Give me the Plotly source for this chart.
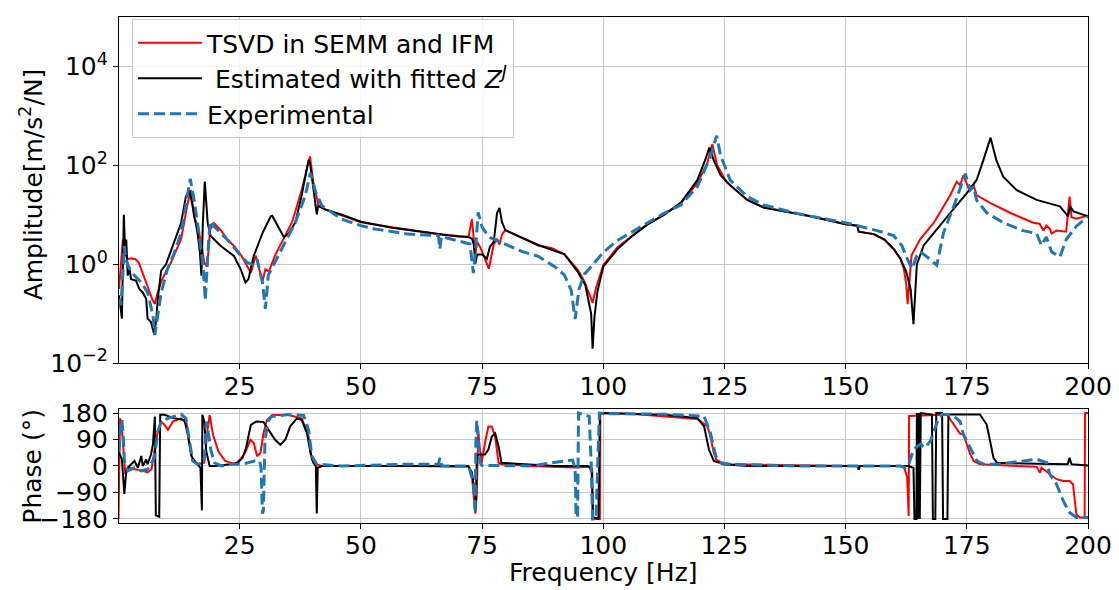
import plotly.graph_objects as go

# ---------------- Amplitude data ----------------
red_amp_f = [0.1, 0.6, 0.9, 1.3, 1.8, 2.5, 3.5, 4.2, 5.0, 6.0, 7.0, 7.5, 8.0, 8.8, 10.0, 10.8, 12.0, 12.9,
             14.2, 14.9, 15.6, 16.5, 17.2, 17.7, 18.3, 18.9, 19.7, 21.0, 22.5, 24.0, 25.2, 26.6, 27.3, 28.3,
             29.0, 29.7, 30.3, 31.0, 32.3, 33.7, 35.8, 37.8, 39.2, 39.5, 40.2, 41.3, 42.6, 46.1, 50.0, 56.4,
             63.3, 66.7, 70.1, 72.2, 72.9, 73.3, 73.6, 74.0, 74.6, 75.3, 76.4, 77.4, 78.1, 78.6, 79.1, 79.8,
             81.8, 86.6, 89.3, 92.0, 94.8, 96.1, 97.1, 97.8, 98.5, 100.0, 102.9, 105.7, 109.1, 112.5, 116.0,
             119.4, 121.4, 122.5, 123.5, 125.5, 129.7, 133.1, 139.9, 142.8, 150.0, 152.4, 152.7, 155.8, 158.0,
             159.9, 161.3, 162.0, 162.5, 162.8, 163.2, 163.6, 165.4, 168.2, 171.6, 172.9, 173.6, 174.3, 175.3,
             176.4, 177.0, 179.8, 183.9, 188.7, 190.0, 190.8, 191.4, 192.1, 192.5, 193.5, 195.5, 196.2, 196.6,
             197.6, 200.0]
red_amp = [0.316, 1.58, 3.16, 1.78, 1.26, 1.32, 1.26, 1.07, 0.631, 0.355, 0.191, 0.158, 0.251, 0.447, 0.794,
           1.07, 2.0, 3.16, 15.8, 31.6, 8.91, 5.01, 2.24, 1.07, 0.891, 5.01, 6.76, 5.01, 3.16, 2.24, 1.58, 0.933,
           0.676, 1.48, 0.794, 0.447, 0.794, 0.708, 1.51, 2.82, 7.08, 31.6, 126, 151, 44.7, 15.1, 12.9, 9.55,
           7.08, 5.62, 4.47, 3.98, 3.72, 3.55, 8.13, 3.55, 1.58, 2.82, 2.24, 1.51, 0.813, 2.51, 3.16, 2.51, 3.98,
           4.90, 3.98, 2.40, 2.14, 1.58, 0.759, 0.447, 0.251, 0.166, 0.331, 0.955, 2.19, 3.55, 6.46, 10.0, 17.4,
           43.7, 107, 269, 100, 44.7, 20.0, 14.1, 10.7, 9.33, 6.46, 6.03, 4.57, 4.07, 3.16, 2.04, 1.29, 0.813,
           0.398, 0.155, 0.501, 1.51, 3.24, 6.92, 25.1, 46.8, 39.8, 63.1, 35.5, 39.8, 25.1, 17.4, 11.0, 6.92,
           6.61, 4.79, 6.03, 5.25, 4.17, 4.79, 4.57, 23.4, 8.91, 8.32, 9.55]

black_amp_f = [0.1, 0.7, 1.1, 1.4, 1.6, 1.9, 2.2, 2.6, 3.6, 4.3, 5.0, 5.7, 6.0, 6.7, 7.4, 7.8, 8.1, 8.8, 9.8,
               11.2, 12.9, 13.9, 14.6, 15.3, 16.3, 16.8, 17.1, 17.4, 17.8, 18.4, 19.0, 21.1, 23.8, 25.2, 26.2,
               26.8, 27.9, 29.7, 31.4, 31.7, 33.0, 34.1, 35.1, 36.5, 37.8, 39.2, 39.5, 40.2, 40.9, 41.2, 42.6,
               46.1, 50.0, 56.4, 63.3, 66.7, 70.1, 72.2, 72.9, 73.3, 73.6, 74.0, 75.0, 76.0, 76.6, 77.4, 78.1,
               78.6, 79.1, 79.8, 82.5, 86.6, 92.0, 94.8, 96.3, 97.5, 97.8, 98.2, 98.8, 100.0, 102.9, 105.7,
               109.1, 112.5, 116.0, 119.4, 121.0, 121.9, 122.8, 124.2, 126.2, 129.7, 133.1, 139.9, 142.8, 150.0,
               152.4, 152.7, 155.8, 158.0, 159.9, 161.3, 162.5, 163.4, 164.0, 164.4, 164.7, 166.1, 168.8, 171.6,
               175.0, 177.0, 178.4, 179.9, 181.1, 182.5, 185.3, 189.4, 194.2, 195.9, 196.3, 197.0, 200.0]
black_amp = [0.234, 0.0794, 10.0, 1.48, 3.16, 0.589, 0.891, 0.501, 0.468, 0.316, 0.269, 0.200, 0.0794, 0.0676,
             0.0372, 0.0794, 0.200, 0.741, 1.0, 2.34, 6.76, 23.4, 31.6, 14.8, 4.27, 1.70, 0.589, 6.76, 46.8, 6.76,
             3.72, 2.34, 1.48, 0.794, 0.427, 0.501, 1.48, 4.27, 9.33, 9.55, 5.62, 3.55, 4.17, 7.08, 25.1, 129, 112,
             31.6, 10.2, 15.1, 12.9, 10.0, 7.24, 5.50, 4.37, 3.98, 3.63, 3.55, 3.31, 2.51, 1.02, 1.58, 1.58, 1.29,
             2.24, 2.82, 11.0, 13.8, 7.08, 4.90, 3.72, 2.45, 1.58, 0.692, 0.380, 0.100, 0.0195, 0.0891, 0.282,
             0.891, 2.0, 3.55, 6.31, 10.0, 17.4, 50.1, 126, 229, 126, 63.1, 39.8, 20.0, 14.1, 10.7, 9.33, 6.46,
             6.03, 4.57, 4.07, 3.16, 2.04, 1.29, 0.708, 0.316, 0.0617, 0.316, 1.0, 2.40, 5.13, 11.0, 27.5, 50.1,
             126, 363, 126, 58.9, 31.6, 20.0, 14.8, 9.33, 14.8, 11.7, 9.33]

blue_amp_f = [0.1, 0.5, 0.9, 1.2, 1.5, 2.3, 3.3, 4.7, 6.0, 7.1, 7.5, 8.1, 8.8, 10.1, 11.5, 12.9, 13.9, 14.8,
              15.6, 16.6, 17.5, 17.9, 18.4, 18.9, 19.7, 21.1, 23.1, 25.2, 26.6, 27.6, 28.6, 29.7, 30.3, 30.9,
              32.3, 34.4, 36.5, 38.5, 39.6, 40.7, 42.0, 46.1, 50.0, 53.0, 59.8, 66.0, 66.3, 66.6, 70.1, 72.5,
              73.2, 73.6, 74.2, 75.0, 76.4, 79.8, 83.2, 86.6, 90.0, 92.0, 93.4, 94.2, 95.0, 96.1, 97.5, 100.0,
              102.9, 105.7, 109.1, 112.5, 116.0, 119.4, 122.1, 123.4, 124.2, 126.2, 129.7, 133.1, 139.9, 142.8,
              150.0, 156.5, 159.9, 161.6, 162.7, 163.7, 164.7, 165.4, 166.8, 168.8, 170.2, 172.3, 174.7, 175.7,
              176.4, 177.0, 179.1, 182.5, 186.6, 189.4, 190.4, 191.4, 192.5, 194.2, 195.5, 197.6, 200.0]
blue_amp = [0.200, 0.148, 0.631, 2.34, 1.26, 0.794, 0.589, 0.427, 0.269, 0.0933, 0.0372, 0.0933, 0.269, 0.794,
            1.70, 4.27, 14.8, 53.7, 20.0, 4.27, 0.794, 0.186, 1.48, 7.41, 5.89, 4.27, 2.69, 1.48, 1.07, 1.0, 1.26,
            0.427, 0.126, 0.603, 1.12, 2.82, 7.08, 24.0, 70.8, 28.2, 15.1, 8.13, 6.03, 5.13, 4.07, 3.80, 2.04,
            3.63, 3.02, 2.57, 0.661, 1.58, 11.2, 5.62, 3.55, 2.51, 1.82, 1.45, 0.891, 0.603, 0.295, 0.0776, 0.316,
            0.631, 0.891, 1.74, 3.02, 4.37, 6.76, 10.7, 15.8, 37.2, 148, 398, 158, 50.1, 23.4, 15.8, 10.7, 9.33,
            6.92, 4.79, 3.80, 2.40, 1.29, 0.813, 1.51, 1.78, 1.41, 0.955, 4.37, 14.8, 67.6, 31.6, 37.2, 20.0,
            11.0, 6.92, 4.79, 4.17, 2.40, 3.55, 1.78, 1.41, 3.16, 5.89, 9.33]

# ---------------- Phase data ----------------
red_ph_f = [0.0, 0.3, 0.6, 0.9, 1.1, 1.4, 1.9, 3.3, 4.7, 6.0, 6.8, 7.4, 8.1, 8.8, 9.5, 10.2, 11.2, 12.9, 14.0,
            14.6, 15.3, 16.3, 17.7, 18.4, 18.8, 19.5, 20.6, 22.0, 24.0, 25.1, 26.1, 27.2, 27.9, 28.6, 29.3, 29.9,
            30.6, 31.7, 35.1, 37.8, 39.2, 39.9, 40.6, 42.0, 50.0, 60.0, 72.2, 72.9, 73.6, 73.9, 74.2, 74.5, 74.9,
            75.6, 76.3, 77.0, 77.7, 78.4, 79.0, 85.0, 94.0, 97.1, 97.6, 97.8, 99.3, 99.4, 105.7, 119.4, 121.5,
            122.1, 122.8, 123.3, 125.0, 150.0, 162.0, 162.7, 163.0, 163.1, 170.9, 172.3, 173.6, 174.3, 175.0,
            175.7, 176.4, 177.7, 189.4, 190.1, 190.4, 191.5, 192.1, 193.5, 194.9, 196.2, 196.9, 197.6, 198.3,
            199.3, 199.4, 200.0]
red_ph = [-180, 162, 150, 95, 39, -28, -5, -11, -15, -22, -11, 50, 117, 151, 140, 123, 151, 162, 145, 84, 17, 6,
          11, 128, 173, 106, 50, 17, 6, 22, 45, 89, 78, 33, 45, 111, 156, 173, 173, 162, 100, 22, 6, 0, 0, -2, 0,
          -33, -162, -100, 122, 66, 11, 78, 134, 134, 100, 11, 6, 0, -5, -3, -22, -180, -180, 180, 178, 160, 135,
          100, 45, 22, 6, 0, 0, -40, -170, 170, 175, 141, 110, 107, 73, 40, 17, 6, -3, -23, -6, -20, -28, -45,
          -51, -51, -62, -164, -175, -175, 180, 180]

black_ph_f = [0.0, 0.3, 0.7, 1.2, 1.6, 1.9, 2.6, 3.3, 4.0, 4.7, 5.0, 5.7, 6.0, 6.7, 7.1, 7.5, 7.7, 8.4, 8.6, 9.5,
              11.5, 13.6, 14.3, 15.0, 16.0, 16.9, 17.2, 17.3, 17.7, 18.1, 18.8, 19.8, 23.2, 24.6, 25.6, 26.3,
              27.3, 28.4, 29.9, 31.0, 32.3, 33.4, 34.4, 35.4, 36.8, 37.8, 38.9, 39.6, 40.2, 40.7, 40.9, 41.1,
              42.0, 60.0, 72.2, 72.9, 73.6, 73.7, 73.9, 74.2, 75.6, 76.3, 77.0, 77.7, 78.4, 79.0, 90.0, 96.8,
              97.7, 97.9, 99.0, 99.3, 105.7, 112.5, 119.4, 120.8, 121.8, 122.8, 124.9, 129.7, 152.4, 152.7,
              153.0, 163.0, 164.0, 164.2, 164.6, 164.7, 164.9, 165.1, 165.3, 165.5, 167.8, 168.0, 168.5, 168.7,
              169.9, 170.1, 171.0, 171.2, 177.7, 179.1, 179.8, 180.5, 181.2, 186.7, 195.8, 196.2, 196.6, 200.0]
black_ph = [45, 39, 22, -95, -17, -6, 6, 17, -6, 34, 0, 22, 6, 39, 73, 168, -168, -173, 174, 174, 162, 156, 106,
            34, 11, -6, -151, 174, 151, 50, 0, 0, 6, 11, 28, 61, 140, 151, 150, 123, 89, 72, 89, 134, 162, 156,
            111, 45, 11, 0, -162, -6, 0, 0, -2, -22, -100, -150, 22, 39, 39, 56, 100, 111, 67, 11, 0, 0, -11, -174,
            -180, 180, 178, 174, 163, 135, 56, 17, 6, 0, 0, -12, 0, 0, -6, -180, -180, 180, -180, 180, -180, 180,
            175, -180, -180, 180, 180, -180, -180, 175, 175, 141, 85, 28, 11, 8, 6, 28, 6, 2]

blue_ph_f = [0.1, 0.4, 0.7, 1.0, 1.2, 1.9, 3.3, 4.7, 6.0, 7.4, 8.1, 8.8, 10.2, 11.5, 12.9, 13.9, 14.6, 15.3,
             16.3, 17.4, 17.7, 18.1, 18.4, 19.1, 19.8, 21.2, 23.2, 25.6, 28.0, 29.1, 29.4, 29.7, 29.9, 30.2,
             30.8, 31.5, 35.1, 38.2, 39.2, 39.9, 40.9, 46.1, 59.8, 66.0, 66.3, 66.7, 72.2, 73.2, 73.6, 73.7,
             73.9, 74.2, 74.6, 75.0, 79.0, 85.1, 92.0, 93.7, 94.2, 94.4, 94.7, 94.9, 96.2, 97.1, 97.5, 97.8,
             98.5, 98.8, 99.2, 100.2, 112.5, 120.8, 122.1, 123.2, 124.2, 126.2, 139.9, 152.7, 161.3, 162.3,
             163.0, 163.7, 164.4, 165.4, 166.4, 167.5, 168.5, 169.2, 169.9, 170.9, 172.3, 173.6, 174.3, 175.0,
             176.0, 177.1, 178.4, 181.2, 186.7, 189.4, 191.5, 192.1, 193.5, 194.9, 196.2, 197.6, 200.0]
blue_ph = [50, 123, 157, 95, 17, -17, -6, -17, -11, 28, 117, 151, 162, 168, 176, 162, 95, 17, 6, 11, 28, 151, 128,
           50, 11, 0, 6, 6, 17, 17, -6, -162, -151, 84, 151, 168, 175, 172, 123, 33, 6, 0, 6, 6, 28, 0, 0, -56,
           -162, 67, 156, 78, 11, 2, 2, 0, 17, 20, -11, -174, -174, 180, 174, 169, 11, -180, -180, 11, 180, 178,
           176, 169, 112, 34, 11, 6, 0, 0, 0, -6, 6, 40, 62, 74, 62, 85, 130, 164, 175, 175, 170, 152, 107, 85,
           51, 17, 6, 6, 17, 23, 11, -28, -62, -119, -158, -175, -175]

amp_ticks = [0.01, 1, 100, 10000]
amp_tick_text = ["10<sup>\u22122</sup>", "10<sup>0</sup>", "10<sup>2</sup>", "10<sup>4</sup>"]
freq_ticks = [25, 50, 75, 100, 125, 150, 175, 200]
phase_ticks = [-180, -90, 0, 90, 180]
phase_tick_text = ["\u2212180", "\u221290", "0", "90", "180"]

RED = "#ff0000"
BLACK = "#000000"
BLUE = "#1f77b4"
FONT = "DejaVu Sans"
FS = 25

fig = go.Figure()

fig.add_trace(go.Scatter(x=red_amp_f, y=red_amp, mode="lines", line=dict(color=RED, width=2),
                         name="TSVD in SEMM and IFM", legendgroup="r", xaxis="x", yaxis="y"))
fig.add_trace(go.Scatter(x=black_amp_f, y=black_amp, mode="lines", line=dict(color=BLACK, width=2),
                         name=" Estimated with fitted <i>Z</i><sup><i>J</i></sup>", legendgroup="k",
                         xaxis="x", yaxis="y"))
fig.add_trace(go.Scatter(x=blue_amp_f, y=blue_amp, mode="lines",
                         line=dict(color=BLUE, width=3, dash="11px,5px"),
                         name="Experimental", legendgroup="b", xaxis="x", yaxis="y"))

fig.add_trace(go.Scatter(x=red_ph_f, y=red_ph, mode="lines", line=dict(color=RED, width=2),
                         showlegend=False, legendgroup="r", xaxis="x2", yaxis="y2"))
fig.add_trace(go.Scatter(x=black_ph_f, y=black_ph, mode="lines", line=dict(color=BLACK, width=2),
                         showlegend=False, legendgroup="k", xaxis="x2", yaxis="y2"))
fig.add_trace(go.Scatter(x=blue_ph_f, y=blue_ph, mode="lines",
                         line=dict(color=BLUE, width=3, dash="11px,5px"),
                         showlegend=False, legendgroup="b", xaxis="x2", yaxis="y2"))

axis_common = dict(showline=True, mirror=True, linecolor="black", linewidth=1.2,
                   ticks="outside", ticklen=5, tickwidth=1.2, tickcolor="black",
                   showgrid=True, gridcolor="#c8c8c8", gridwidth=1, zeroline=False,
                   tickfont=dict(family=FONT, size=FS, color="black"))

fig.update_layout(
    width=1119, height=590,
    margin=dict(l=119, r=27, t=7, b=67),
    paper_bgcolor="white", plot_bgcolor="white",
    font=dict(family=FONT, size=FS, color="black"),
    showlegend=True,
    legend=dict(x=0.0134, y=0.996, xanchor="left", yanchor="top",
                bgcolor="rgba(255,255,255,0.85)", bordercolor="#cccccc", borderwidth=1,
                font=dict(family=FONT, size=FS, color="black"),
                traceorder="grouped", tracegroupgap=0, itemwidth=64),
    xaxis=dict(domain=[0, 1], anchor="y", range=[0.1, 200], tickvals=freq_ticks,
               ticklabelstandoff=-4, **axis_common),
    yaxis=dict(domain=[0.3159, 1], anchor="x", type="log", range=[-2, 5],
               tickvals=amp_ticks, ticktext=amp_tick_text, **axis_common),
    xaxis2=dict(domain=[0, 1], anchor="y2", range=[0.1, 200], tickvals=freq_ticks,
                ticklabelstandoff=-5, **axis_common),
    yaxis2=dict(domain=[0, 0.2254], anchor="x2", range=[-194, 194],
                tickvals=phase_ticks, ticktext=phase_tick_text, **axis_common),
    annotations=[
        dict(text="Amplitude[m/s<sup>2</sup>/N]", xref="paper", yref="paper", x=-0.0894, y=0.67,
             xanchor="center", yanchor="middle", textangle=-90, showarrow=False,
             font=dict(family=FONT, size=FS, color="black")),
        dict(text="Phase (\u00b0)", xref="paper", yref="paper", x=-0.0894, y=0.112,
             xanchor="center", yanchor="middle", textangle=-90, showarrow=False,
             font=dict(family=FONT, size=FS, color="black")),
        dict(text="Frequency [Hz]", xref="paper", yref="paper", x=0.5, y=-0.097,
             xanchor="center", yanchor="middle", showarrow=False,
             font=dict(family=FONT, size=FS, color="black")),
    ],
)

fig.write_html("out.html")
